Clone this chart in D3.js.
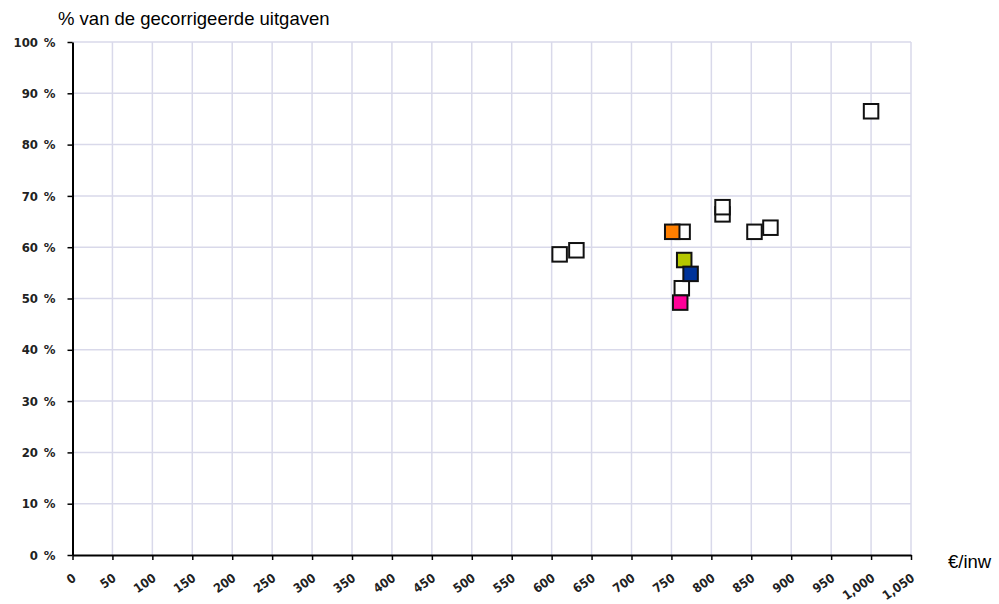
<!DOCTYPE html>
<html>
<head>
<meta charset="utf-8">
<script src="https://cdn.jsdelivr.net/npm/d3@7"></script>
<style>
  body { margin: 0; background: #fff; }
  svg { display: block; }
  .tick text { font-family: "DejaVu Sans Condensed", "DejaVu Sans", sans-serif; font-stretch: condensed;
               font-weight: bold; font-size: 12.5px; fill: #222; }
</style>
</head>
<body>
<svg width="999" height="604"></svg>
<script>
// uitgaven per inwoner (€/inw) en aandeel van de gecorrigeerde uitgaven (%)
var bedrag  = [610, 631, 764, 814, 814, 854, 874, 763, 1000, 751, 766, 774, 761];
var aandeel = [58.6, 59.4, 63.0, 66.4, 67.8, 63.0, 63.8, 52.0, 86.5, 63.0, 57.5, 54.8, 49.2];
var groep   = ["overig", "overig", "overig", "overig", "overig", "overig", "overig", "overig", "overig",
               "A", "B", "C", "D"];

var xTicks = d3.range(0, 1051, 50);
var yTicks = d3.range(0, 101, 10);

var svg = d3.select("svg"),
    width = +svg.attr("width"),
    height = +svg.attr("height");

var margin = {left: 72.5, right: 88, top: 42, bottom: 49};

var x = d3.scaleLinear().domain([0, 1050]).range([margin.left, width - margin.right]);
var y = d3.scaleLinear().domain([0, 100]).range([height - margin.bottom, margin.top]);

var color = d3.scaleOrdinal()
    .domain(["overig", "A", "B", "C", "D"])
    .range(["#ffffff", "#ff7f00", "#b5c700", "#003399", "#ff0099"]);

var fmt = d3.format(",");

// grid
var grid = svg.append("g").attr("class", "grid");
grid.selectAll("line.v")
  .data(xTicks.slice(1))
  .enter().append("line")
    .attr("class", "v")
    .attr("x1", function(d) { return x(d); })
    .attr("x2", function(d) { return x(d); })
    .attr("y1", y(0))
    .attr("y2", y(100))
    .attr("stroke", "#d9d9ea")
    .attr("stroke-width", 1.5);
grid.selectAll("line.h")
  .data(yTicks.slice(1))
  .enter().append("line")
    .attr("class", "h")
    .attr("x1", x(0))
    .attr("x2", x(1050))
    .attr("y1", function(d) { return y(d); })
    .attr("y2", function(d) { return y(d); })
    .attr("stroke", "#d9d9ea")
    .attr("stroke-width", 1.5);

// axes
var xAxis = svg.append("g")
    .attr("transform", "translate(0," + y(0) + ")")
    .call(d3.axisBottom(x).tickValues(xTicks).tickSize(5).tickSizeOuter(0).tickFormat(fmt));
xAxis.select(".domain").attr("stroke-width", 2);
xAxis.selectAll(".tick line").attr("stroke-width", 1.5);
xAxis.selectAll(".tick text")
    .attr("text-anchor", "end")
    .attr("dy", null)
    .attr("y", null)
    .attr("transform", "translate(4,25) rotate(-35)");

var yAxis = svg.append("g")
    .attr("transform", "translate(" + x(0) + ",0)")
    .call(d3.axisLeft(y).tickValues(yTicks).tickSize(5).tickSizeOuter(0)
      .tickFormat(function(d) { return d + "\u2002%"; }));
yAxis.select(".domain").attr("stroke-width", 2);
yAxis.selectAll(".tick line").attr("stroke-width", 1.5);
yAxis.selectAll(".tick text").attr("x", -17).style("font-size", "13px");

// points
var s = 14.5;
svg.append("g")
  .selectAll("rect")
  .data(bedrag)
  .enter().append("rect")
    .attr("x", function(d) { return x(d) - s / 2; })
    .attr("y", function(d, i) { return y(aandeel[i]) - s / 2; })
    .attr("width", s)
    .attr("height", s)
    .attr("fill", function(d, i) { return color(groep[i]); })
    .attr("stroke", "#111")
    .attr("stroke-width", 2);

// titles
svg.append("text")
    .attr("x", 58)
    .attr("y", 25)
    .attr("font-family", "Liberation Sans, Arial, sans-serif")
    .attr("font-size", 18.5)
    .text("% van de gecorrigeerde uitgaven");

svg.append("text")
    .attr("x", 948)
    .attr("y", 568)
    .attr("font-family", "Liberation Sans, Arial, sans-serif")
    .attr("font-size", 18.5)
    .text("€/inw");
</script>
</body>
</html>
